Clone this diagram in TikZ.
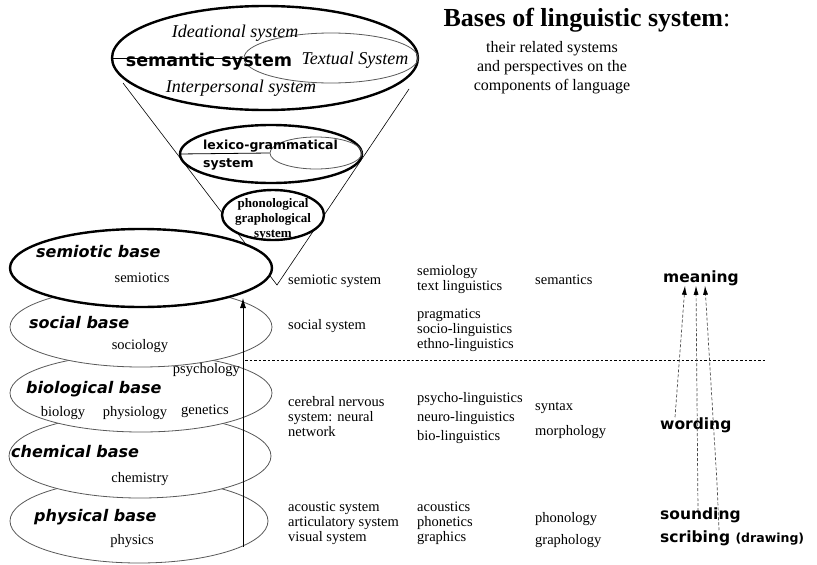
\documentclass[tikz,border=0pt]{standalone}
\usepackage{fontspec}
\setmainfont{Liberation Serif}
\newfontfamily\pixelsans{DejaVu Sans}
\usetikzlibrary{shapes.geometric,arrows.meta}

\tikzset{
  ring/.style={ellipse, draw, fill=white, inner sep=0pt},
  thickring/.style={ring, line width=2.4pt},
  thinring/.style={ring, draw=black!65, line width=0.8pt},
  basename/.style={font=\pixelsans\bfseries\itshape\fontsize{16}{18}\selectfont, anchor=west, inner sep=0pt},
  plain/.style={font=\fontsize{14.5}{15}\selectfont, inner sep=0pt},
  colitem/.style={plain, anchor=west, align=left},
  italic/.style={font=\itshape\fontsize{18}{20}\selectfont, inner sep=0pt},
  level/.style={font=\pixelsans\bfseries\fontsize{15.5}{17}\selectfont, anchor=west, inner sep=0pt},
  dasharrow/.style={densely dashed, black!70, line width=0.7pt, -{Latex[length=9pt,width=5pt,black]}},
}

\begin{document}
\begin{tikzpicture}[x=1pt, y=-1pt]%
    \useasboundingbox (0, 0) rectangle (817, 565);
    % the lower bases, bottom one first
    \node[thinring, minimum width=258pt, minimum height=84pt] (physical) at (139, 521) {};
    \node[thinring, minimum width=262pt, minimum height=84pt] (chemical) at (140, 456) {};
    \node[thinring, minimum width=262pt, minimum height=78pt] (biological) at (141, 393) {};
    \node[thinring, minimum width=262pt, minimum height=80pt] (social) at (141, 327) {};
    % funnel
    \coordinate (funnelL) at (123, 83);
    \coordinate (funnelV) at (277, 285);
    \coordinate (funnelR) at (409, 89);
    \draw[line width=0.6pt] (funnelL) -- (funnelV) -- (funnelR);
    % semantic system
    \node[thickring, minimum width=306pt, minimum height=104pt] (semantic) at (265, 58) {};
    \node[thinring, fill=none, minimum width=174pt, minimum height=50pt] (textual) at (331, 58) {};
    \draw[line width=0.8pt] (semantic.west) -- (textual.west);
    \node[italic] (ideational) at (235, 33) {Ideational system};
    \node[font=\pixelsans\bfseries\fontsize{17.5}{19}\selectfont, inner sep=0pt] (semsys) at (209, 62) {semantic system};
    \node[italic] (textualtxt) at (355, 60) {Textual System};
    \node[italic] (interpersonal) at (241, 88) {Interpersonal system};
    % lexico-grammatical system
    \node[thickring, minimum width=182pt, minimum height=58pt] (lexico) at (271, 154) {};
    \node[thinring, fill=none, minimum width=92pt, minimum height=32pt] (lexinner) at (316, 153) {};
    \draw[line width=0.8pt] (lexico.west) -- (lexinner.west);
    \node[font=\pixelsans\bfseries\fontsize{12.5}{18}\selectfont, align=left, anchor=west, inner sep=0pt] (lexicotxt) at (203, 155) {lexico-grammatical\\system};
    % phonological system
    \node[thickring, minimum width=102pt, minimum height=50pt] (phono) at (273, 215) {};
    \node[font=\bfseries\fontsize{13}{15}\selectfont, align=center, inner sep=0pt] (phonotxt) at (273, 219) {phonological\\graphological\\system};
    % semiotic base on top
    \node[thickring, minimum width=262pt, minimum height=78pt] (semiotic) at (141, 268) {};
    % base labels
    \node[basename] (semioticlbl) at (36, 252) {semiotic base};
    \node[plain] (semiotics) at (142, 278) {semiotics};
    \node[basename] (sociallbl) at (29, 323) {social base};
    \node[plain] (sociology) at (140, 346) {sociology};
    \node[plain, anchor=east] (psychology) at (240, 370) {psychology};
    \node[basename] (biologicallbl) at (26, 389) {biological base};
    \node[plain] (biology) at (63, 413) {biology};
    \node[plain] (physiology) at (135, 413) {physiology};
    \node[plain] (genetics) at (205, 411) {genetics};
    \node[basename] (chemicallbl) at (11, 452) {chemical base};
    \node[plain] (chemistry) at (140, 479) {chemistry};
    \node[basename] (physicallbl) at (34, 517) {physical base};
    \node[plain] (physics) at (132, 541) {physics};
    % rising arrow
    \coordinate (risefoot) at (243, 547);
    \coordinate (risetop) at (243, 298);
    \draw[line width=0.8pt, -{Latex[length=10pt, width=6pt]}] (risefoot) -- (risetop);
    % title
    \node[font=\bfseries\fontsize{26}{30}\selectfont, inner sep=0pt] (title) at (587, 20) {Bases of linguistic system{\mdseries :}};
    \node[font=\fontsize{16}{19}\selectfont, align=center, inner sep=0pt] (subtitle) at (552, 68) {their related systems\\and perspectives on the\\components of language};
    % columns
    \node[colitem] (semioticsys) at (288, 281) {semiotic system};
    \node[colitem] (socialsys) at (288, 326) {social system};
    \node[colitem] (cerebral) at (288, 417) {cerebral nervous\\system: neural\\network};
    \node[colitem] (physsys) at (288, 523) {acoustic system\\articulatory system\\visual system};
    \node[colitem] (semiology) at (417, 280) {semiology\\text linguistics};
    \node[colitem] (pragmatics) at (417, 330) {pragmatics\\socio-linguistics\\ethno-linguistics};
    \node[colitem, font=\fontsize{14.5}{19}\selectfont] (psycholing) at (417, 418) {psycho-linguistics\\neuro-linguistics\\bio-linguistics};
    \node[colitem] (acoustics) at (417, 523) {acoustics\\phonetics\\graphics};
    \node[colitem] (semantics) at (535, 280) {semantics};
    \node[colitem, font=\fontsize{14.5}{25}\selectfont] (syntax) at (535, 420) {syntax\\morphology};
    \node[colitem, font=\fontsize{14.5}{22}\selectfont] (phonology) at (535, 530) {phonology\\graphology};
    % divider
    \coordinate (dividerL) at (245, 360);
    \coordinate (dividerR) at (765, 360);
    \draw[dash pattern=on 2.5pt off 2pt, line width=0.6pt] (dividerL) -- (dividerR);
    % levels of language
    \node[level] (meaning) at (663, 278) {meaning};
    \node[level] (wording) at (660, 425) {wording};
    \node[level] (sounding) at (660, 515) {sounding};
    \node[level] (scribing) at (660, 538) {scribing {\fontsize{12.5}{14}\selectfont (drawing)}};
    \draw[dasharrow] ([xshift=15pt]wording.north west) -- ([xshift=22pt]meaning.south west);
    \draw[dasharrow] ([xshift=38pt, yshift=-4pt]sounding.north west) -- ([xshift=33pt]meaning.south west);
    \draw[dasharrow] ([xshift=59pt]scribing.north west) -- (717, 483) -- ([xshift=42pt]meaning.south west);
\end{tikzpicture}
\end{document}
